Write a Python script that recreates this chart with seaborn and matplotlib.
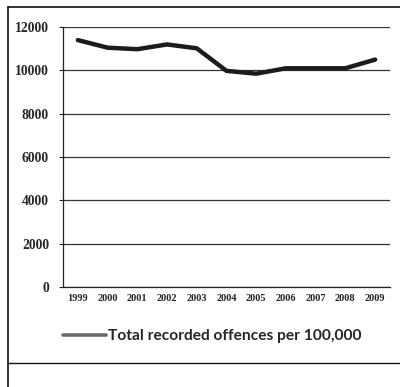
import matplotlib
matplotlib.use("Agg")
import matplotlib.pyplot as plt
from matplotlib.lines import Line2D
import seaborn as sns
import pandas as pd

years = ["1999", "2000", "2001", "2002", "2003", "2004", "2005", "2006", "2007", "2008", "2009"]
offences = [11400, 11050, 10980, 11200, 11020, 9980, 9850, 10100, 10100, 10100, 10500]
y_ticks = [0, 2000, 4000, 6000, 8000, 10000, 12000]
series_name = "Total recorded offences per 100,000"

df = pd.DataFrame({"year": years, "value": offences})

sns.set_theme(style="white")
plt.rcParams["font.family"] = ["Liberation Serif", "DejaVu Serif"]

fig = plt.figure(figsize=(4.0, 3.87), dpi=100)
ax = fig.add_axes([0.1575, 0.258, 0.8175, 0.672])

sns.lineplot(data=df, x="year", y="value", ax=ax, color="#1c1c1c", linewidth=3.2, sort=False)

ax.set_ylim(0, 12000)
ax.set_xlim(-0.5, len(years) - 0.5)
ax.set_yticks(y_ticks)
ax.set_yticklabels([str(v) for v in y_ticks], fontsize=9.8, fontweight="bold")
ax.set_xticks(range(len(years)))
ax.set_xticklabels(years, fontsize=7.5, fontweight="bold")
ax.set_xlabel("")
ax.set_ylabel("")
ax.grid(axis="y", color="#333333", linewidth=0.9)
ax.set_axisbelow(True)
for side in ("top", "right"):
    ax.spines[side].set_visible(False)
for side in ("left", "bottom"):
    ax.spines[side].set_color("#222222")
    ax.spines[side].set_linewidth(0.9)
ax.tick_params(axis="y", length=3, width=0.8, color="#222222", pad=7, left=True)
ax.tick_params(axis="x", length=0, pad=5)

handle = Line2D([], [], color="#6a6a6a", linewidth=2.6)
fig.legend([handle], [series_name], loc="center", bbox_to_anchor=(0.53, 0.131),
           frameon=False, handlelength=2.8, handletextpad=0.1,
           prop={"family": "Lato", "weight": "bold", "size": 11.2})

# outer frame
fig.add_artist(Line2D([0.02, 1.0], [0.982, 0.982], transform=fig.transFigure, color="#111111", linewidth=1.2))
fig.add_artist(Line2D([0.02, 0.02], [0.0, 0.982], transform=fig.transFigure, color="#111111", linewidth=1.2))
fig.add_artist(Line2D([0.02, 1.0], [0.062, 0.062], transform=fig.transFigure, color="#111111", linewidth=1.0))

fig.savefig("out.png", dpi=100, facecolor="white")
